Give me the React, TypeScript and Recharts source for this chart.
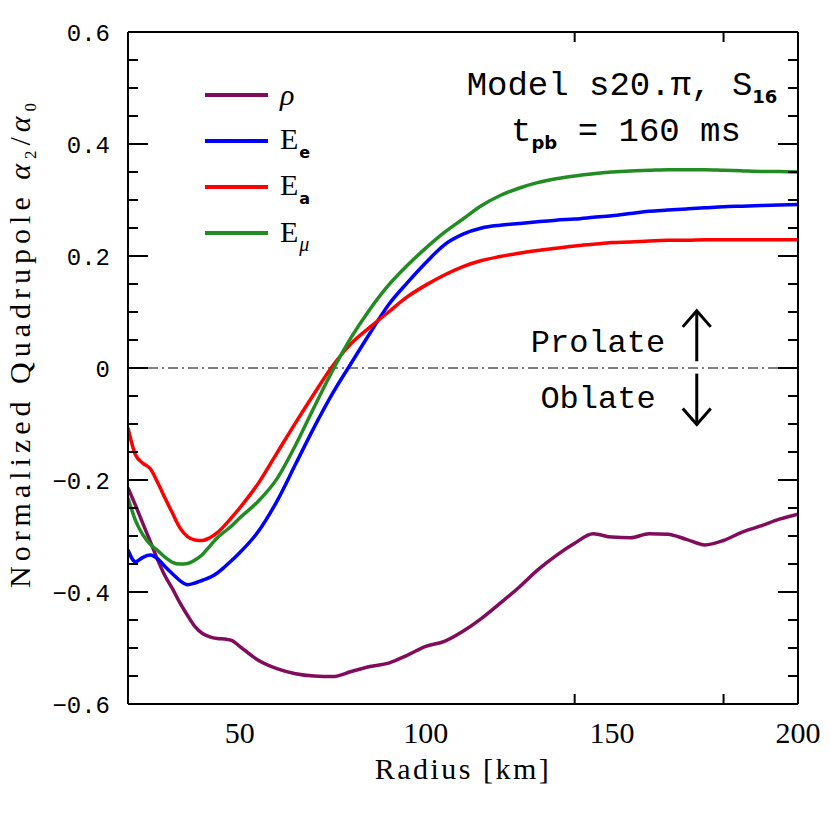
import React from "react";
import { LineChart, Line, XAxis, YAxis, ReferenceLine, Legend } from "recharts";

// radius grid [km]
const radius = [
  20, 22, 24, 26, 28, 30, 32, 34, 36, 38, 40, 42, 44, 46, 48, 50,
  55, 60, 65, 70, 75, 80, 85, 90, 95, 100, 105, 110, 115, 120, 125, 130,
  135, 140, 145, 150, 155, 160, 165, 170, 175, 180, 185, 190, 195, 200,
];

// normalized quadrupole a2/a0 for each quantity
const rho = [
  -0.214, -0.245, -0.278, -0.31, -0.343, -0.372, -0.395, -0.42, -0.442, -0.462, -0.474, -0.48, -0.483, -0.484, -0.487, -0.497,
  -0.522, -0.537, -0.546, -0.55, -0.551, -0.542, -0.533, -0.527, -0.513, -0.497, -0.488, -0.47, -0.447, -0.42, -0.392, -0.361,
  -0.335, -0.313, -0.296, -0.302, -0.303, -0.296, -0.297, -0.306, -0.316, -0.308, -0.293, -0.282, -0.27, -0.261,
];
const eE = [
  -0.325, -0.346, -0.338, -0.334, -0.341, -0.355, -0.368, -0.38, -0.387, -0.384, -0.379, -0.374, -0.366, -0.355, -0.343, -0.33,
  -0.292, -0.238, -0.172, -0.106, -0.045, 0.009, 0.062, 0.113, 0.152, 0.188, 0.22, 0.239, 0.25, 0.255, 0.258, 0.261,
  0.264, 0.266, 0.269, 0.272, 0.276, 0.28, 0.282, 0.284, 0.286, 0.288, 0.289, 0.29, 0.291, 0.292,
];
const eA = [
  -0.107, -0.155, -0.17, -0.18, -0.205, -0.233, -0.26, -0.286, -0.301, -0.307, -0.308, -0.303, -0.294, -0.281, -0.266, -0.25,
  -0.206, -0.152, -0.098, -0.046, 0.004, 0.044, 0.073, 0.1, 0.127, 0.148, 0.166, 0.181, 0.192, 0.199, 0.205, 0.21,
  0.214, 0.218, 0.221, 0.224, 0.225, 0.227, 0.228, 0.228, 0.229, 0.229, 0.229, 0.229, 0.229, 0.229,
];
const eMu = [
  -0.232, -0.272, -0.298, -0.315, -0.326, -0.338, -0.347, -0.35, -0.349, -0.343, -0.333, -0.318, -0.303, -0.292, -0.281, -0.268,
  -0.238, -0.198, -0.138, -0.07, -0.004, 0.055, 0.105, 0.148, 0.183, 0.214, 0.242, 0.266, 0.29, 0.308, 0.321, 0.331,
  0.338, 0.343, 0.347, 0.35, 0.352, 0.353, 0.354, 0.354, 0.354, 0.353, 0.352, 0.351, 0.351, 0.35,
];

const xMajor = [50, 100, 150, 200];
const xMinor = [30, 40, 60, 70, 80, 90, 110, 120, 130, 140, 160, 170, 180, 190];
const yMajor = [-0.6, -0.4, -0.2, 0, 0.2, 0.4, 0.6];
const yMinor = [
  -0.55, -0.5, -0.45, -0.35, -0.3, -0.25, -0.15, -0.1, -0.05,
  0.05, 0.1, 0.15, 0.25, 0.3, 0.35, 0.45, 0.5, 0.55,
];

const data = radius.map((r, i) => ({ r, rho: rho[i], ee: eE[i], ea: eA[i], emu: eMu[i] }));

const serif = '"Liberation Serif", "Times New Roman", serif';
const mono = '"Liberation Mono", monospace';
const subSans: React.CSSProperties = {
  fontFamily: '"DejaVu Sans", sans-serif',
  fontWeight: "bold",
  fontSize: 16,
  position: "relative",
  top: 9,
  marginLeft: 1,
};

const series = [
  { key: "rho", color: "#820c5c", label: <i>ρ</i> },
  { key: "ee", color: "#0000ff", label: <>E<span style={subSans}>e</span></> },
  { key: "ea", color: "#ff0000", label: <>E<span style={subSans}>a</span></> },
  {
    key: "emu",
    color: "#228b22",
    label: <>E<span style={{ ...subSans, fontFamily: serif, fontWeight: "normal", fontStyle: "italic", fontSize: 20 }}>μ</span></>,
  },
];

const X_DOMAIN: [number, number] = [20, 200];
const Y_DOMAIN: [number, number] = [-0.6, 0.6];
const tickLn = { stroke: "#000", strokeWidth: 2 };
const frame = { stroke: "#000", strokeWidth: 2 };
const THIN = 0.01; // mirrored tick axes take (almost) no room
const NoLabel = () => <g />;

const fmtY = (v: number) => (Math.abs(v) < 1e-9 ? "0" : (v < 0 ? "\u2212" : "") + Math.abs(v).toFixed(1));

function LegendBox() {
  return (
    <div style={{ fontFamily: serif, color: "#000" }}>
      {series.map((s) => (
        <div key={s.key} style={{ display: "flex", alignItems: "center", height: 46 }}>
          <svg width={63} height={6}>
            <line x1={0} y1={3} x2={63} y2={3} stroke={s.color} strokeWidth={4} />
          </svg>
          <span style={{ marginLeft: 12, fontSize: 30, lineHeight: "30px" }}>{s.label}</span>
        </div>
      ))}
    </div>
  );
}

function Arrow(props: any) {
  const { x1, y1, x2, y2 } = props;
  const dir = y2 < y1 ? 1 : -1;
  return (
    <g stroke="#000" strokeWidth={3} fill="none">
      <line x1={x1} y1={y1} x2={x2} y2={y2} />
      <polyline points={`${x2 - 14},${y2 + dir * 16} ${x2},${y2} ${x2 + 14},${y2 + dir * 16}`} />
    </g>
  );
}

export default function App() {
  return (
    <div style={{ position: "absolute", left: 0, top: 0, width: 830, height: 830, background: "#fff" }}>
      <LineChart width={830} height={830} data={data} margin={{ top: 32, right: 32, left: 0, bottom: 0 }}>
        {/* label axes */}
        <XAxis
          dataKey="r"
          type="number"
          domain={X_DOMAIN}
          allowDataOverflow
          ticks={xMajor}
          interval={0}
          height={126}
          axisLine={false}
          tickLine={false}
          tickSize={6}
          tickMargin={12}
          tick={{ fill: "#000", fontSize: 30, fontFamily: serif }}
        />
        <YAxis
          type="number"
          domain={Y_DOMAIN}
          allowDataOverflow
          ticks={yMajor}
          interval={0}
          width={128}
          axisLine={false}
          tickLine={false}
          tickSize={6}
          tickMargin={12}
          tickFormatter={fmtY}
          tick={{ fill: "#000", fontSize: 24, fontFamily: mono }}
        />
        {/* inward ticks on all four sides */}
        <XAxis xAxisId="bMaj" type="number" domain={X_DOMAIN} allowDataOverflow orientation="bottom" mirror height={THIN} ticks={xMajor} interval={0} tick={NoLabel} tickSize={20} tickLine={tickLn} axisLine={frame} />
        <XAxis xAxisId="bMin" type="number" domain={X_DOMAIN} allowDataOverflow orientation="bottom" mirror height={THIN} ticks={xMinor} interval={0} tick={NoLabel} tickSize={10} tickLine={tickLn} axisLine={false} />
        <XAxis xAxisId="tMaj" type="number" domain={X_DOMAIN} allowDataOverflow orientation="top" mirror height={THIN} ticks={xMajor} interval={0} tick={NoLabel} tickSize={20} tickLine={tickLn} axisLine={frame} />
        <XAxis xAxisId="tMin" type="number" domain={X_DOMAIN} allowDataOverflow orientation="top" mirror height={THIN} ticks={xMinor} interval={0} tick={NoLabel} tickSize={10} tickLine={tickLn} axisLine={false} />
        <YAxis yAxisId="lMaj" type="number" domain={Y_DOMAIN} allowDataOverflow orientation="left" mirror width={THIN} ticks={yMajor} interval={0} tick={NoLabel} tickSize={20} tickLine={tickLn} axisLine={frame} />
        <YAxis yAxisId="lMin" type="number" domain={Y_DOMAIN} allowDataOverflow orientation="left" mirror width={THIN} ticks={yMinor} interval={0} tick={NoLabel} tickSize={10} tickLine={tickLn} axisLine={false} />
        <YAxis yAxisId="rMaj" type="number" domain={Y_DOMAIN} allowDataOverflow orientation="right" mirror width={THIN} ticks={yMajor} interval={0} tick={NoLabel} tickSize={20} tickLine={tickLn} axisLine={frame} />
        <YAxis yAxisId="rMin" type="number" domain={Y_DOMAIN} allowDataOverflow orientation="right" mirror width={THIN} ticks={yMinor} interval={0} tick={NoLabel} tickSize={10} tickLine={tickLn} axisLine={false} />

        <ReferenceLine y={0} stroke="#555" strokeWidth={1.5} strokeDasharray="10 4 2 4" />
        <ReferenceLine segment={[{ x: 172.8, y: 0.012 }, { x: 172.8, y: 0.102 }]} shape={<Arrow />} />
        <ReferenceLine segment={[{ x: 172.8, y: -0.01 }, { x: 172.8, y: -0.101 }]} shape={<Arrow />} />

        {series.map((s) => (
          <Line
            key={s.key}
            type="monotone"
            dataKey={s.key}
            stroke={s.color}
            strokeWidth={3.5}
            dot={false}
            isAnimationActive={false}
          />
        ))}

        <Legend
          layout="vertical"
          align="center"
          verticalAlign="middle"
          wrapperStyle={{ left: 205, top: 72, width: "auto" }}
          content={<LegendBox />}
        />
      </LineChart>

      <svg width={830} height={830} style={{ position: "absolute", left: 0, top: 0, pointerEvents: "none" }}>
        <text x={622} y={95} textAnchor="middle" fontFamily={mono} fontSize={34} fill="#000">
          Model s20.π, S
          <tspan dy={8} fontFamily='"DejaVu Sans", sans-serif' fontWeight="bold" fontSize={18}>16</tspan>
        </text>
        <text x={626} y={141} textAnchor="middle" fontFamily={mono} fontSize={34} fill="#000">
          t
          <tspan dy={8} fontFamily='"DejaVu Sans", sans-serif' fontWeight="bold" fontSize={18}>pb</tspan>
          <tspan dy={-8}> = 160 ms</tspan>
        </text>
        <text x={598} y={352} textAnchor="middle" fontFamily={mono} fontSize={32} fill="#000">Prolate</text>
        <text x={598} y={408} textAnchor="middle" fontFamily={mono} fontSize={32} fill="#000">Oblate</text>

        <text x={463} y={779} textAnchor="middle" fontFamily={serif} fontSize={30} letterSpacing={2.5} fill="#000">
          Radius [km]
        </text>
        <text transform="translate(30,343) rotate(-90)" textAnchor="middle" fontFamily={serif} fontSize={30} letterSpacing={5} fill="#000">
          Normalized Quadrupole{" "}
          <tspan fontStyle="italic">α</tspan>
          <tspan dy={6} fontSize={17}>2</tspan>
          <tspan dy={-6}>/</tspan>
          <tspan fontStyle="italic">α</tspan>
          <tspan dy={6} fontSize={17}>0</tspan>
        </text>
      </svg>
    </div>
  );
}
